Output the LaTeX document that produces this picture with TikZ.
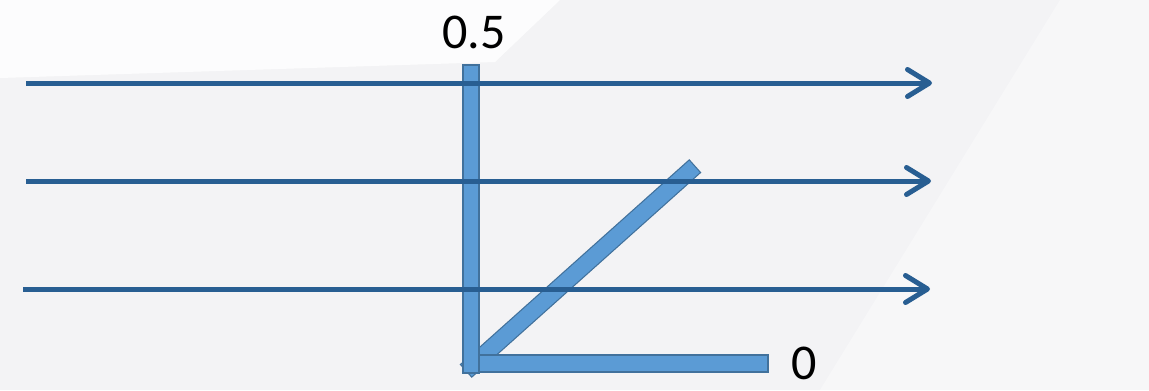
\documentclass[tikz,border=0pt]{standalone}
\usepackage{xcolor}
\usepackage{fontspec}
\setmainfont{Carlito}
\usetikzlibrary{arrows.meta, calc}
\definecolor{raycol}{RGB}{40,94,146}
\definecolor{barfill}{RGB}{91,155,213}
\definecolor{barline}{RGB}{65,113,156}
\definecolor{bgcol}{RGB}{243,243,245}

\begin{document}
\begin{tikzpicture}[x=0.2mm, y=-0.2mm, >={Straight Barb[length=4.4mm, width=5.4mm, round]},
  every node/.style={font=\fontsize{28.5}{30}\selectfont, inner sep=0pt},
  bar/.style={draw=barline, fill=barfill, line width=0.6pt, inner sep=0pt, outer sep=0pt},
  ray/.style={->, draw=raycol, line width=1mm}]
  \useasboundingbox (0,0) rectangle (1149,390);
  \fill[bgcol] (0,0) rectangle (1149,390);
  \fill[white, opacity=0.8] (0,0) -- (560,0) -- (495,62) -- (0,78) -- cycle;
  \fill[white, opacity=0.35] (1060,0) -- (1149,0) -- (1149,390) -- (820,390) -- cycle;
  % bars
  \node[bar, minimum width=6.14cm, minimum height=0.34cm, rotate=41.8] (tilted) at (580.5,268.5) {};
  \node[bar, minimum width=6.1cm, minimum height=0.34cm] (lowbar) at (615.5,363.5) {};
  \node[bar, minimum width=0.32cm, minimum height=6.16cm] (upbar) at (471,219) {};
  \node[anchor=base] (topval) at (474,48) {0.5};
  \node[anchor=base] (lowval) at (804,379) {0};
  % rays
  \coordinate (in1) at (26,83);  \coordinate (out1) at (932,83);
  \coordinate (in2) at (26,181); \coordinate (out2) at (931,181);
  \coordinate (in3) at (23,289); \coordinate (out3) at (930,289);
  \draw[ray] (in1) -- (out1);
  \draw[ray] (in2) -- (out2);
  \draw[ray] (in3) -- (out3);
\end{tikzpicture}
\end{document}
